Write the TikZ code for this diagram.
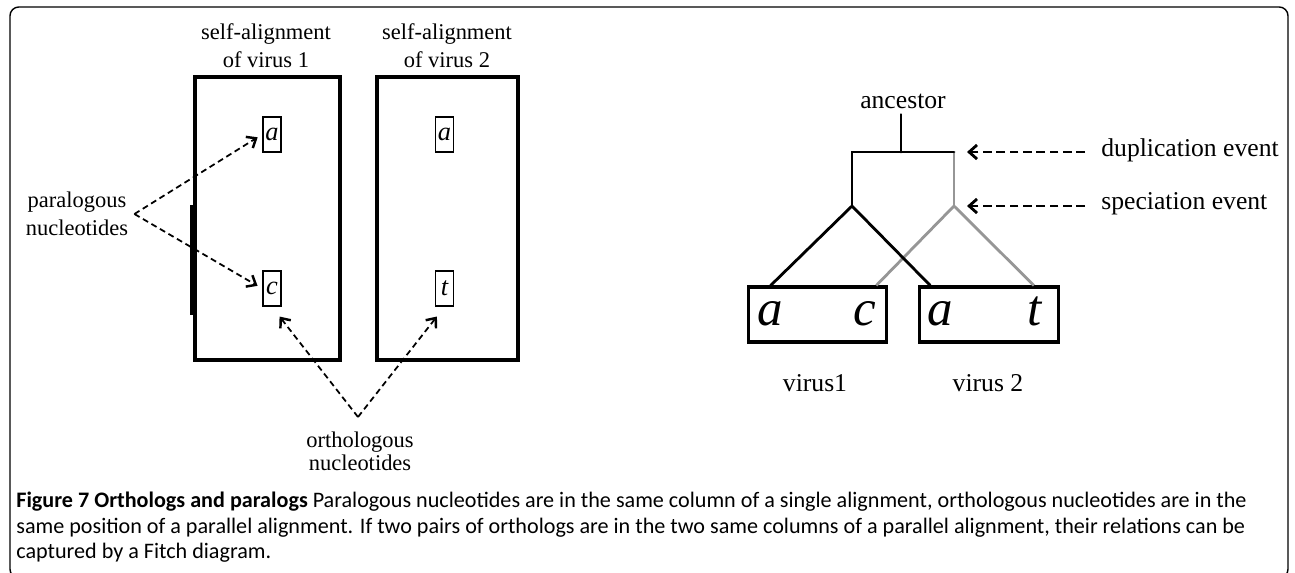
\documentclass[tikz,border=0pt]{standalone}
\usepackage{fontspec}
\setmainfont{Liberation Serif}
\newfontfamily\capfont{Carlito}
\usetikzlibrary{arrows.meta,calc}
\definecolor{branchgray}{RGB}{150,150,150}
\tikzstyle{alignbox}=[draw,line width=2.2pt,inner sep=0pt,minimum height=5.66cm]
\tikzstyle{nuc}=[draw,line width=1pt,inner sep=0pt,minimum width=0.36cm,minimum height=0.7cm,font=\fontsize{15}{15}\selectfont\itshape]
\tikzstyle{fitchbox}=[draw,line width=1.8pt,inner sep=0pt,minimum width=2.77cm,minimum height=1.1cm]
\tikzstyle{fitchletter}=[anchor=base,inner sep=0pt,font=\fontsize{29}{29}\selectfont\itshape]
\tikzstyle{lefttext}=[align=center,font=\fontsize{12.8}{16}\selectfont]
\tikzstyle{righttext}=[font=\fontsize{14.6}{17}\selectfont]
\tikzstyle{captext}=[anchor=base west,inner sep=0pt,font=\capfont\fontsize{12.6}{14.2}\selectfont]
\tikzstyle{pointer}=[line width=1pt,dash pattern=on 3.4pt off 2.2pt,-{Straight Barb[length=4.5pt,width=7.5pt,line width=1.4pt]}]
\tikzstyle{eventarrow}=[line width=1.6pt,dash pattern=on 5pt off 2.6pt,-{Straight Barb[length=4.5pt,width=8pt,line width=1.6pt]}]
\tikzstyle{blackbranch}=[line width=1.6pt,line cap=round]
\tikzstyle{graybranch}=[line width=1.6pt,branchgray]
\newcommand{\nucbox}[3]{% name, position, letter
\node[nuc] (#1) at (#2) {#3};
}
\newcommand{\eventline}[3]{% label name, branch point, text
\node[righttext,anchor=west,inner sep=0pt] (#1) at ($(#2)+(147,-2)$) {#3};
\draw[eventarrow,shorten <=9pt,shorten >=7.4pt] (#1.west |- #2) -- (#2);
}

\begin{document}
\begin{tikzpicture}[x=0.02cm,y=-0.02cm]
\useasboundingbox (0,0) rectangle (1295,572);
\draw[line width=0.8pt,rounded corners=5pt] (10,7) rectangle (1288,578); % frame runs off the bottom
% the two self-alignments
\node[lefttext] (title1) at (266,46) {self-alignment\\of virus 1};
\node[lefttext] (title2) at (447,46) {self-alignment\\of virus 2};
\node[alignbox,minimum width=2.9cm] (alignA) at (267.5,218.5) {};
\node[alignbox,minimum width=2.82cm] (alignB) at (447.5,218.5) {};
\draw[line width=3.2pt] ($(alignA.north west)+(0,130)$) -- ($(alignA.north west)+(0,240)$);
\nucbox{a1}{272,134.5}{a}
\nucbox{c1}{272,288.5}{c}
\nucbox{a2}{444.5,134.5}{a}
\nucbox{t2}{444.5,288.5}{t}
%paralogous
\node[lefttext] (para) at (77,214) {paralogous\\nucleotides};
\draw[pointer,shorten >=3pt] (para.east) -- (a1.west);
\draw[pointer,shorten >=3pt] (para.east) -- (c1.west);
%orthologous
\node[lefttext,font=\fontsize{12.8}{13}\selectfont] (ortho) at (360,451) {orthologous\\nucleotides};
\coordinate (orthotop) at (358,417);
\draw[pointer,shorten >=7pt] (orthotop) -- (c1.south);
\draw[pointer,shorten >=7pt] (orthotop) -- (t2.south);
% Fitch diagram
\node[righttext] (ancestor) at (903,101) {ancestor};
\coordinate (dup) at (901,152);
\coordinate (dupL) at (852,152);
\coordinate (dupR) at (954,152);
\coordinate (specL) at (852,206);
\coordinate (specR) at (954,206);
\node[fitchbox] (fitchA) at (817.5,314.5) {};
\node[fitchbox] (fitchB) at (989,314.5) {};
\draw[graybranch] (dupR) -- (specR);
\draw[graybranch] ($(fitchA.north east)+(-12,0)$) -- (specR) -- ($(fitchB.north east)+(-26,0)$);
\draw[blackbranch] (dup |- ancestor.south) -- (dup);
\draw[blackbranch] (specL) -- (dupL) -- (dupR);
\draw[blackbranch] ($(fitchA.north west)+(24,0)$) -- (specL) -- ($(fitchB.north west)+(12,0)$);
\node[fitchletter] (lA1) at (770,325) {a};
\node[fitchletter] (lA2) at (865,325) {c};
\node[fitchletter] (lB1) at (940,325) {a};
\node[fitchletter] (lB2) at (1035,325) {t};
\node[righttext] (virus1) at (815,383) {virus1};
\node[righttext] (virus2) at (988,383) {virus 2};
\eventline{duplab}{dupR}{duplication event}
\eventline{speclab}{specR}{speciation event}
% caption
\node[captext] (cap1) at (16,507) {\textbf{Figure 7 Orthologs and paralogs} Paralogous nucleotides are in the same column of a single alignment, orthologous nucleotides are in the};
\node[captext] (cap2) at (16,533) {same position of a parallel alignment. If two pairs of orthologs are in the two same columns of a parallel alignment, their relations can be};
\node[captext] (cap3) at (16,558) {captured by a Fitch diagram.};
\end{tikzpicture}
\end{document}
